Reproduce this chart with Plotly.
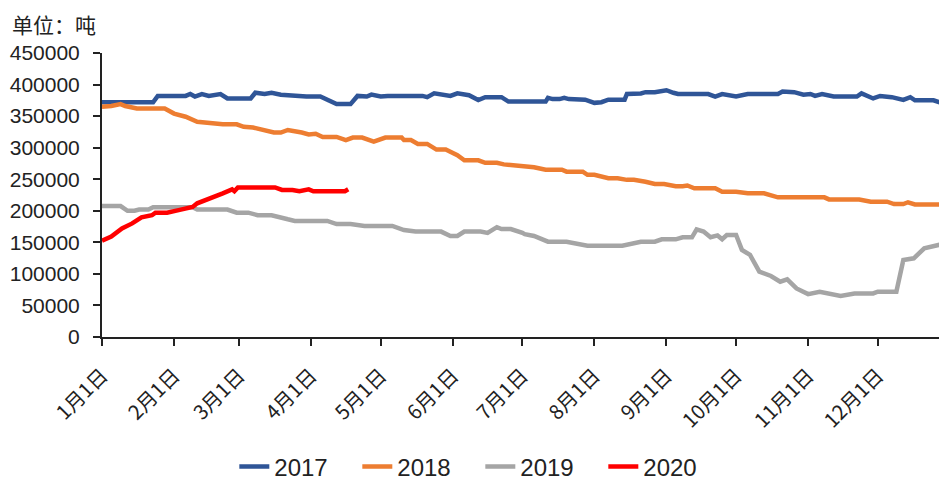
import plotly.graph_objects as go

# day-of-year (0 = Jan 1) and inventory values (tonnes)
days_2017 = [0,15,17,22,24,36,38,40,43,46,51,54,64,66,70,73,77,83,88,94,96,101,107,110,114,116,120,123,138,140,143,150,153,158,162,165,172,175,191,192,194,197,199,201,208,212,215,218,225,226,232,234,238,243,246,248,261,264,267,270,273,278,291,293,298,302,305,307,310,315,325,327,332,335,340,345,348,350,358,364]
vals_2017 = [372000,372000,371000,372000,382000,382000,385000,381000,385000,382000,385000,378000,378000,387000,385000,387000,384000,382000,381000,381000,378000,369000,369000,382000,381000,384000,381000,382000,382000,380000,386000,382000,386000,383000,375500,380000,380000,373000,373000,379000,377000,377000,379000,377000,376000,371000,372000,376000,376000,385000,386000,388000,388000,391000,387000,385000,385000,381000,385000,383000,381000,385000,385000,389000,388000,384000,385000,382000,385000,381000,381000,386000,378000,382000,380000,375600,380000,375000,375000,367600]

days_2018 = [0,4,8,10,15,27,31,36,41,46,52,58,61,65,69,74,77,80,86,89,92,95,101,105,108,112,117,122,129,130,133,136,140,144,148,153,156,162,165,170,173,186,191,198,200,207,209,212,218,222,226,229,234,238,242,247,250,252,255,264,267,273,278,285,291,311,313,326,331,338,341,345,347,350,364]
vals_2018 = [365000,366000,369000,366000,362000,362000,354000,349000,341000,339000,337000,337000,333000,332000,329000,324000,324000,328000,324000,321000,322000,317000,317000,312000,316000,316000,309500,316000,316000,312000,312000,306000,306000,297000,297000,288000,280000,280000,276000,276000,273500,269000,265000,265000,262000,262000,257000,257000,251500,251500,249000,249000,246000,242400,242400,239000,239000,240000,235600,235600,230000,230000,227700,227700,221300,221300,218000,218000,214400,214400,210700,210700,213500,210000,210000]

days_2019 = [0,8,11,14,16,20,22,39,41,54,58,63,67,73,80,83,97,101,107,113,125,130,135,146,150,153,156,163,166,170,172,176,181,182,186,192,200,207,209,224,228,232,238,241,247,250,254,256,259,262,265,267,269,273,275.5,279,283,288,292,295,299,304,309,313,318,324,332,334,342,345,349.5,354,359,364]
vals_2019 = [207500,207500,200000,200000,202000,202000,205500,205500,202000,202000,197000,197000,193000,193000,186500,184000,184000,179000,179000,176000,176000,169500,167000,167000,160000,160000,167000,167000,165000,174000,171000,171000,165000,163000,160000,151000,151000,147000,144700,144700,147000,151000,151000,154800,154800,158000,158000,170600,167000,158000,161000,155000,161600,161600,138000,130000,103500,96700,87600,91400,77000,68000,71800,68000,65000,69000,69000,71800,71800,122000,124700,140500,144200,149000]

days_2020 = [0,4,8.6,13,17,21.5,23,28,33,39,41,47,52,56,57,58.5,74.5,77.5,82,85,89,91,104.6,106]
vals_2020 = [152600,159000,172000,180000,189600,193000,197000,197000,201000,206000,211800,219800,227700,234000,231000,237000,237000,233000,233000,231000,234000,231000,231000,234000]

series_names = ["2017", "2018", "2019", "2020"]
series_colors = ["#2F5597", "#ED7D31", "#A5A5A5", "#FF0000"]

tick_days = [0, 31, 59, 90, 120, 151, 181, 212, 243, 273, 304, 334]
tick_labels = ["1月1日", "2月1日", "3月1日", "4月1日", "5月1日", "6月1日",
               "7月1日", "8月1日", "9月1日", "10月1日", "11月1日", "12月1日"]
y_ticks = [0, 50000, 100000, 150000, 200000, 250000, 300000, 350000, 400000, 450000]

fig = go.Figure()
for name, color, xs, ys in zip(series_names, series_colors,
                               [days_2017, days_2018, days_2019, days_2020],
                               [vals_2017, vals_2018, vals_2019, vals_2020]):
    fig.add_trace(go.Scatter(x=xs, y=ys, mode="lines", name=name,
                             line=dict(color=color, width=4.5)))

# page body adds an 8px margin, so the figure is 939x476 and offset accordingly
fig.update_layout(
    width=939, height=476,
    margin=dict(l=94, r=0, t=45, b=147),
    paper_bgcolor="white", plot_bgcolor="white",
    showlegend=True,
    legend=dict(orientation="h", xref="container", yref="container",
                x=0.503, xanchor="center", y=0.036, yanchor="middle",
                font=dict(family="Liberation Sans Narrow, Arial Narrow, sans-serif", size=24, color="#222"),
                entrywidth=78, entrywidthmode="pixels", tracegroupgap=0),
    annotations=[dict(text="单位：吨", xref="paper", yref="paper", x=0, y=1,
                      xshift=-92, yshift=29, xanchor="left", yanchor="middle", showarrow=False,
                      font=dict(family="Noto Sans CJK SC", size=21, color="#222"))],
)
fig.update_xaxes(
    range=[0, 363.8], tickmode="array", tickvals=tick_days, ticktext=tick_labels,
    tickangle=-45, ticks="outside", ticklen=7, tickwidth=1.5, tickcolor="#222",
    showline=True, linecolor="#222", linewidth=2, showgrid=False, zeroline=False,
    ticklabelstandoff=10, automargin=False,
    tickfont=dict(family="Noto Sans CJK SC", size=20, color="#222"),
)
fig.update_yaxes(
    range=[0, 450000], tickmode="array", tickvals=y_ticks,
    ticktext=[str(v) for v in y_ticks],
    ticks="outside", ticklen=7, tickwidth=1.5, tickcolor="#222",
    showline=True, linecolor="#222", linewidth=2, showgrid=False, zeroline=False,
    ticklabelstandoff=9, automargin=False,
    tickfont=dict(family="Liberation Sans, Arial, sans-serif", size=21, color="#222"),
)

fig.write_html("out.html")
